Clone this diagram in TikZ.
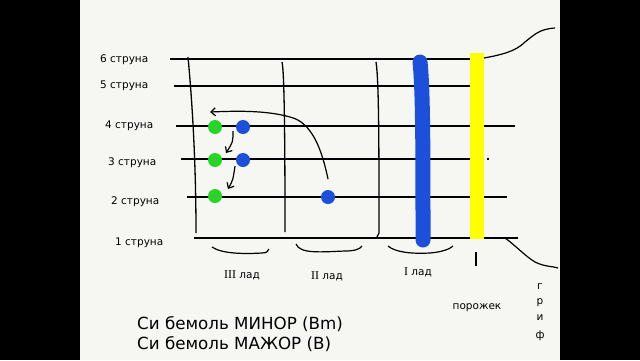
\documentclass[tikz,border=0pt]{standalone}
\usepackage{fontspec}
\setmainfont{DejaVu Sans}
\newfontfamily\numfont{Liberation Serif}
\usetikzlibrary{arrows.meta}
\definecolor{bg}{RGB}{246,247,243}
\definecolor{fretblue}{RGB}{28,80,218}
\definecolor{dotgreen}{RGB}{40,212,40}
\definecolor{nutyellow}{RGB}{255,255,0}
\tikzset{
  strline/.style={black,line width=1.4pt},
  fretline/.style={black,line width=1.3pt},
  handline/.style={black,line width=1.2pt},
  arr/.style={handline,-{Straight Barb[length=4.5pt,width=8pt]}},
  gdot/.style={circle,fill=dotgreen,inner sep=0pt,minimum size=14pt},
  bdot/.style={circle,fill=fretblue,inner sep=0pt,minimum size=14pt},
  strlabel/.style={anchor=west,font=\fontsize{10.5}{12}\selectfont,inner sep=0pt},
  fretlabel/.style={font=\fontsize{10.5}{12}\selectfont,inner sep=0pt},
  bigtext/.style={anchor=west,font=\fontsize{16.7}{19}\selectfont,inner sep=0pt},
}
\begin{document}
\begin{tikzpicture}[x=1pt,y=-1pt]
\useasboundingbox (0,0) rectangle (640,360);
\fill[black] (0,0) rectangle (80,360);
\fill[black] (560,0) rectangle (640,360);
\fill[bg] (80,0) rectangle (560,360);

% strings
\draw[strline] (170,59) -- (470,59);
\draw[strline] (174,86) -- (470,86);
\draw[strline] (176,126) -- (515,126);
\draw[strline] (181,159) -- (470,159);
\draw[strline] (487,159) -- (489,159);
\draw[strline] (187,197) -- (507,197);
\draw[strline] (194,238) -- (518,238);

% frets
\draw[fretline] (188,57) .. controls (193,110) and (196,170) .. (196,233);
\draw[fretline] (282,62) .. controls (284,70) and (285,120) .. (285,232);
\draw[fretline] (376,62) .. controls (379,80) and (379,150) .. (379,233) -- (377,237);

% first fret barre
\draw[fretblue,line width=15pt,line cap=round] (420,62) .. controls (423,90) and (423,150) .. (423,240);

% nut
\fill[nutyellow] (470,53) rectangle (484,239);
\draw[handline] (476,252) -- (476,266);

% neck outline
\draw[handline] (484,58) .. controls (500,55) and (515,52) .. (525,42) .. controls (535,34) and (540,29) .. (555,28);
\draw[handline] (487,238) -- (505,238) .. controls (515,245) and (525,256) .. (535,262) .. controls (545,267) and (552,266) .. (558,268);

% string labels
\node[strlabel] (s6) at (100,60) {6 струна};
\node[strlabel] (s5) at (100,86) {5 струна};
\node[strlabel] (s4) at (105,126) {4 струна};
\node[strlabel] (s3) at (108,163) {3 струна};
\node[strlabel] (s2) at (111,202) {2 струна};
\node[strlabel] (s1) at (115,243) {1 струна};

% dots
\node[gdot] (g4) at (215,127) {};
\node[gdot] (g3) at (215,160) {};
\node[gdot] (g2) at (215,196) {};
\node[bdot] (b4) at (243,127) {};
\node[bdot] (b3) at (243,160) {};
\node[bdot] (b2) at (328,197) {};

% arrows
\coordinate (bigstart) at (328,179);
\coordinate (bigend) at (210,112);
\draw[arr] (bigstart) .. controls (322,150) and (312,122) .. (290,117) .. controls (265,110) and (235,111) .. (bigend);
\coordinate (a1s) at (233,131);
\coordinate (a1e) at (226,153);
\draw[arr] (a1s) .. controls (233,142) .. (a1e);
\coordinate (a2s) at (235,166);
\coordinate (a2e) at (228,189);
\draw[arr] (a2s) .. controls (233,180) .. (a2e);

% braces
\draw[handline] (212,247) .. controls (222,254) and (245,254) .. (262,253) .. controls (267,253) and (268,251) .. (269,249);
\draw[handline] (296,244) .. controls (300,254) and (320,252) .. (345,251) .. controls (355,251) and (360,249) .. (362,246);
\draw[handline] (388,246) .. controls (395,252) and (410,254) .. (430,253) .. controls (442,252) and (450,249) .. (453,246);

% fret labels
\node[fretlabel] (l3) at (242,275) {{\numfont\fontsize{12}{13}\selectfont III} лад};
\node[fretlabel] (l2) at (327,276) {{\numfont\fontsize{12}{13}\selectfont II} лад};
\node[fretlabel] (l1) at (418,272) {{\numfont\fontsize{12}{13}\selectfont I} лад};
\node[fretlabel] (nut) at (477,308) {порожек};
\node[fretlabel] (gr1) at (540,287) {г};
\node[fretlabel] (gr2) at (540,303) {р};
\node[fretlabel] (gr3) at (540,318) {и};
\node[fretlabel] (gr4) at (540,336) {ф};

% title texts
\node[bigtext] (t1) at (137,324) {Си бемоль МИНОР (Bm)};
\node[bigtext] (t2) at (137,344) {Си бемоль МАЖОР (В)};
\end{tikzpicture}
\end{document}
